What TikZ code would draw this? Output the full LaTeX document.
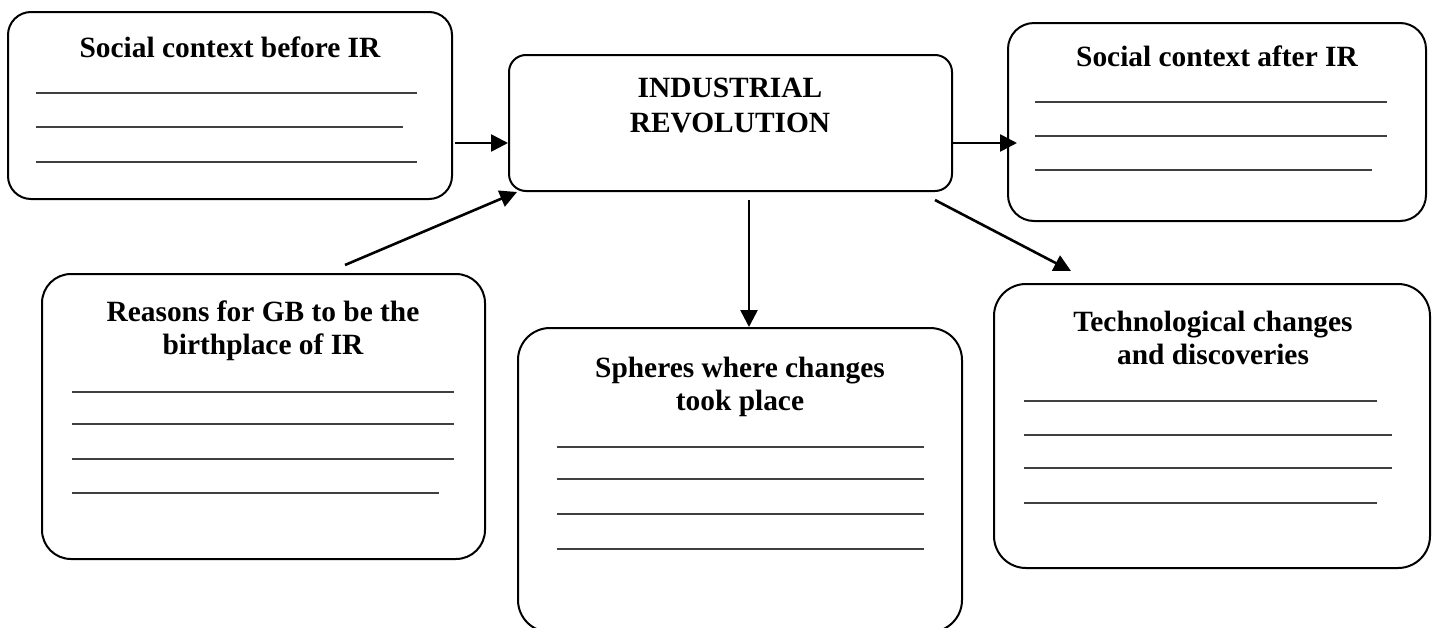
\documentclass[tikz,border=0pt]{standalone}
\usepackage{fontspec}
\setmainfont{Liberation Serif}
\usetikzlibrary{arrows.meta,calc}

\tikzset{
  box/.style={draw, line width=1pt, inner sep=0pt, fill=white},
  % anchor=base sits on the last line of a multi-line title
  title/.style={font=\bfseries\fontsize{14.7pt}{16.5pt}\selectfont, align=center, inner sep=0pt, anchor=base},
  blank/.style={line width=1.1pt, draw=black!75},
  arr/.style={line width=1.3pt, -{Triangle[length=8.5pt,width=8.5pt]}},
}

\begin{document}
\begin{tikzpicture}[x=0.5pt, y=-0.5pt]
  \clip (0,0) rectangle (1436,627);
  \fill[white] (0,0) rectangle (1436,627);

  % boxes
  \node[box, rounded corners=11.5pt, minimum width=222pt,   minimum height=93.5pt]  (before)  at (230,105.5) {};
  \node[box, rounded corners=8.5pt,  minimum width=221.5pt, minimum height=68pt]    (ir)      at (730.5,123) {};
  \node[box, rounded corners=13pt,   minimum width=209pt,   minimum height=99pt]    (after)   at (1217,122) {};
  \node[box, rounded corners=14.5pt, minimum width=221.5pt, minimum height=142.5pt] (reasons) at (263.5,416.5) {};
  \node[box, rounded corners=16pt,   minimum width=222pt,   minimum height=152pt]   (spheres) at (740,480) {};
  \node[box, rounded corners=16pt,   minimum width=218pt,   minimum height=142pt]   (tech)    at (1212,426) {};

  % titles
  \node[title] (tbefore)  at (230,57)   {Social context before IR};
  \node[title] (tir)      at (730,132)  {INDUSTRIAL\\[1pt]REVOLUTION};
  \node[title] (tafter)   at (1217,66)  {Social context after IR};
  \node[title] (treasons) at (263,354)  {Reasons for GB to be the\\birthplace of IR};
  \node[title] (tspheres) at (740,410)  {Spheres where changes\\took place};
  \node[title] (ttech)    at (1213,364) {Technological changes\\and discoveries};

  % writing lines
  \draw[blank] (36,93) -- (417,93) (36,127) -- (403,127) (36,162) -- (417,162);
  \draw[blank] (1035,102) -- (1387,102) (1035,136) -- (1387,136) (1035,170) -- (1372,170);
  \draw[blank] (72,392) -- (454,392) (72,424) -- (454,424) (72,459) -- (454,459) (72,493) -- (439,493);
  \draw[blank] (557,447) -- (924,447) (557,479) -- (924,479) (557,514) -- (924,514) (557,549) -- (924,549);
  \draw[blank] (1024,401) -- (1377,401) (1024,435) -- (1392,435) (1024,468) -- (1392,468) (1024,503) -- (1377,503);

  % connectors
  \draw[arr] ($(before.east)+(2,37.5)$) -- ($(ir.west)+(0,20)$);
  \draw[arr] ($(ir.east)+(0,20)$) -- ($(after.west)+(10,21)$);
  \draw[arr] ($(reasons.north)+(81.5,-8)$) -- ($(ir.south west)+(9,0)$);
  \draw[arr] ($(ir.south)+(18.5,8)$) -- ($(spheres.north)+(9,0)$);
  \draw[arr] ($(ir.south east)+(-18,8)$) -- ($(tech.north west)+(78,-12)$);
\end{tikzpicture}
\end{document}
